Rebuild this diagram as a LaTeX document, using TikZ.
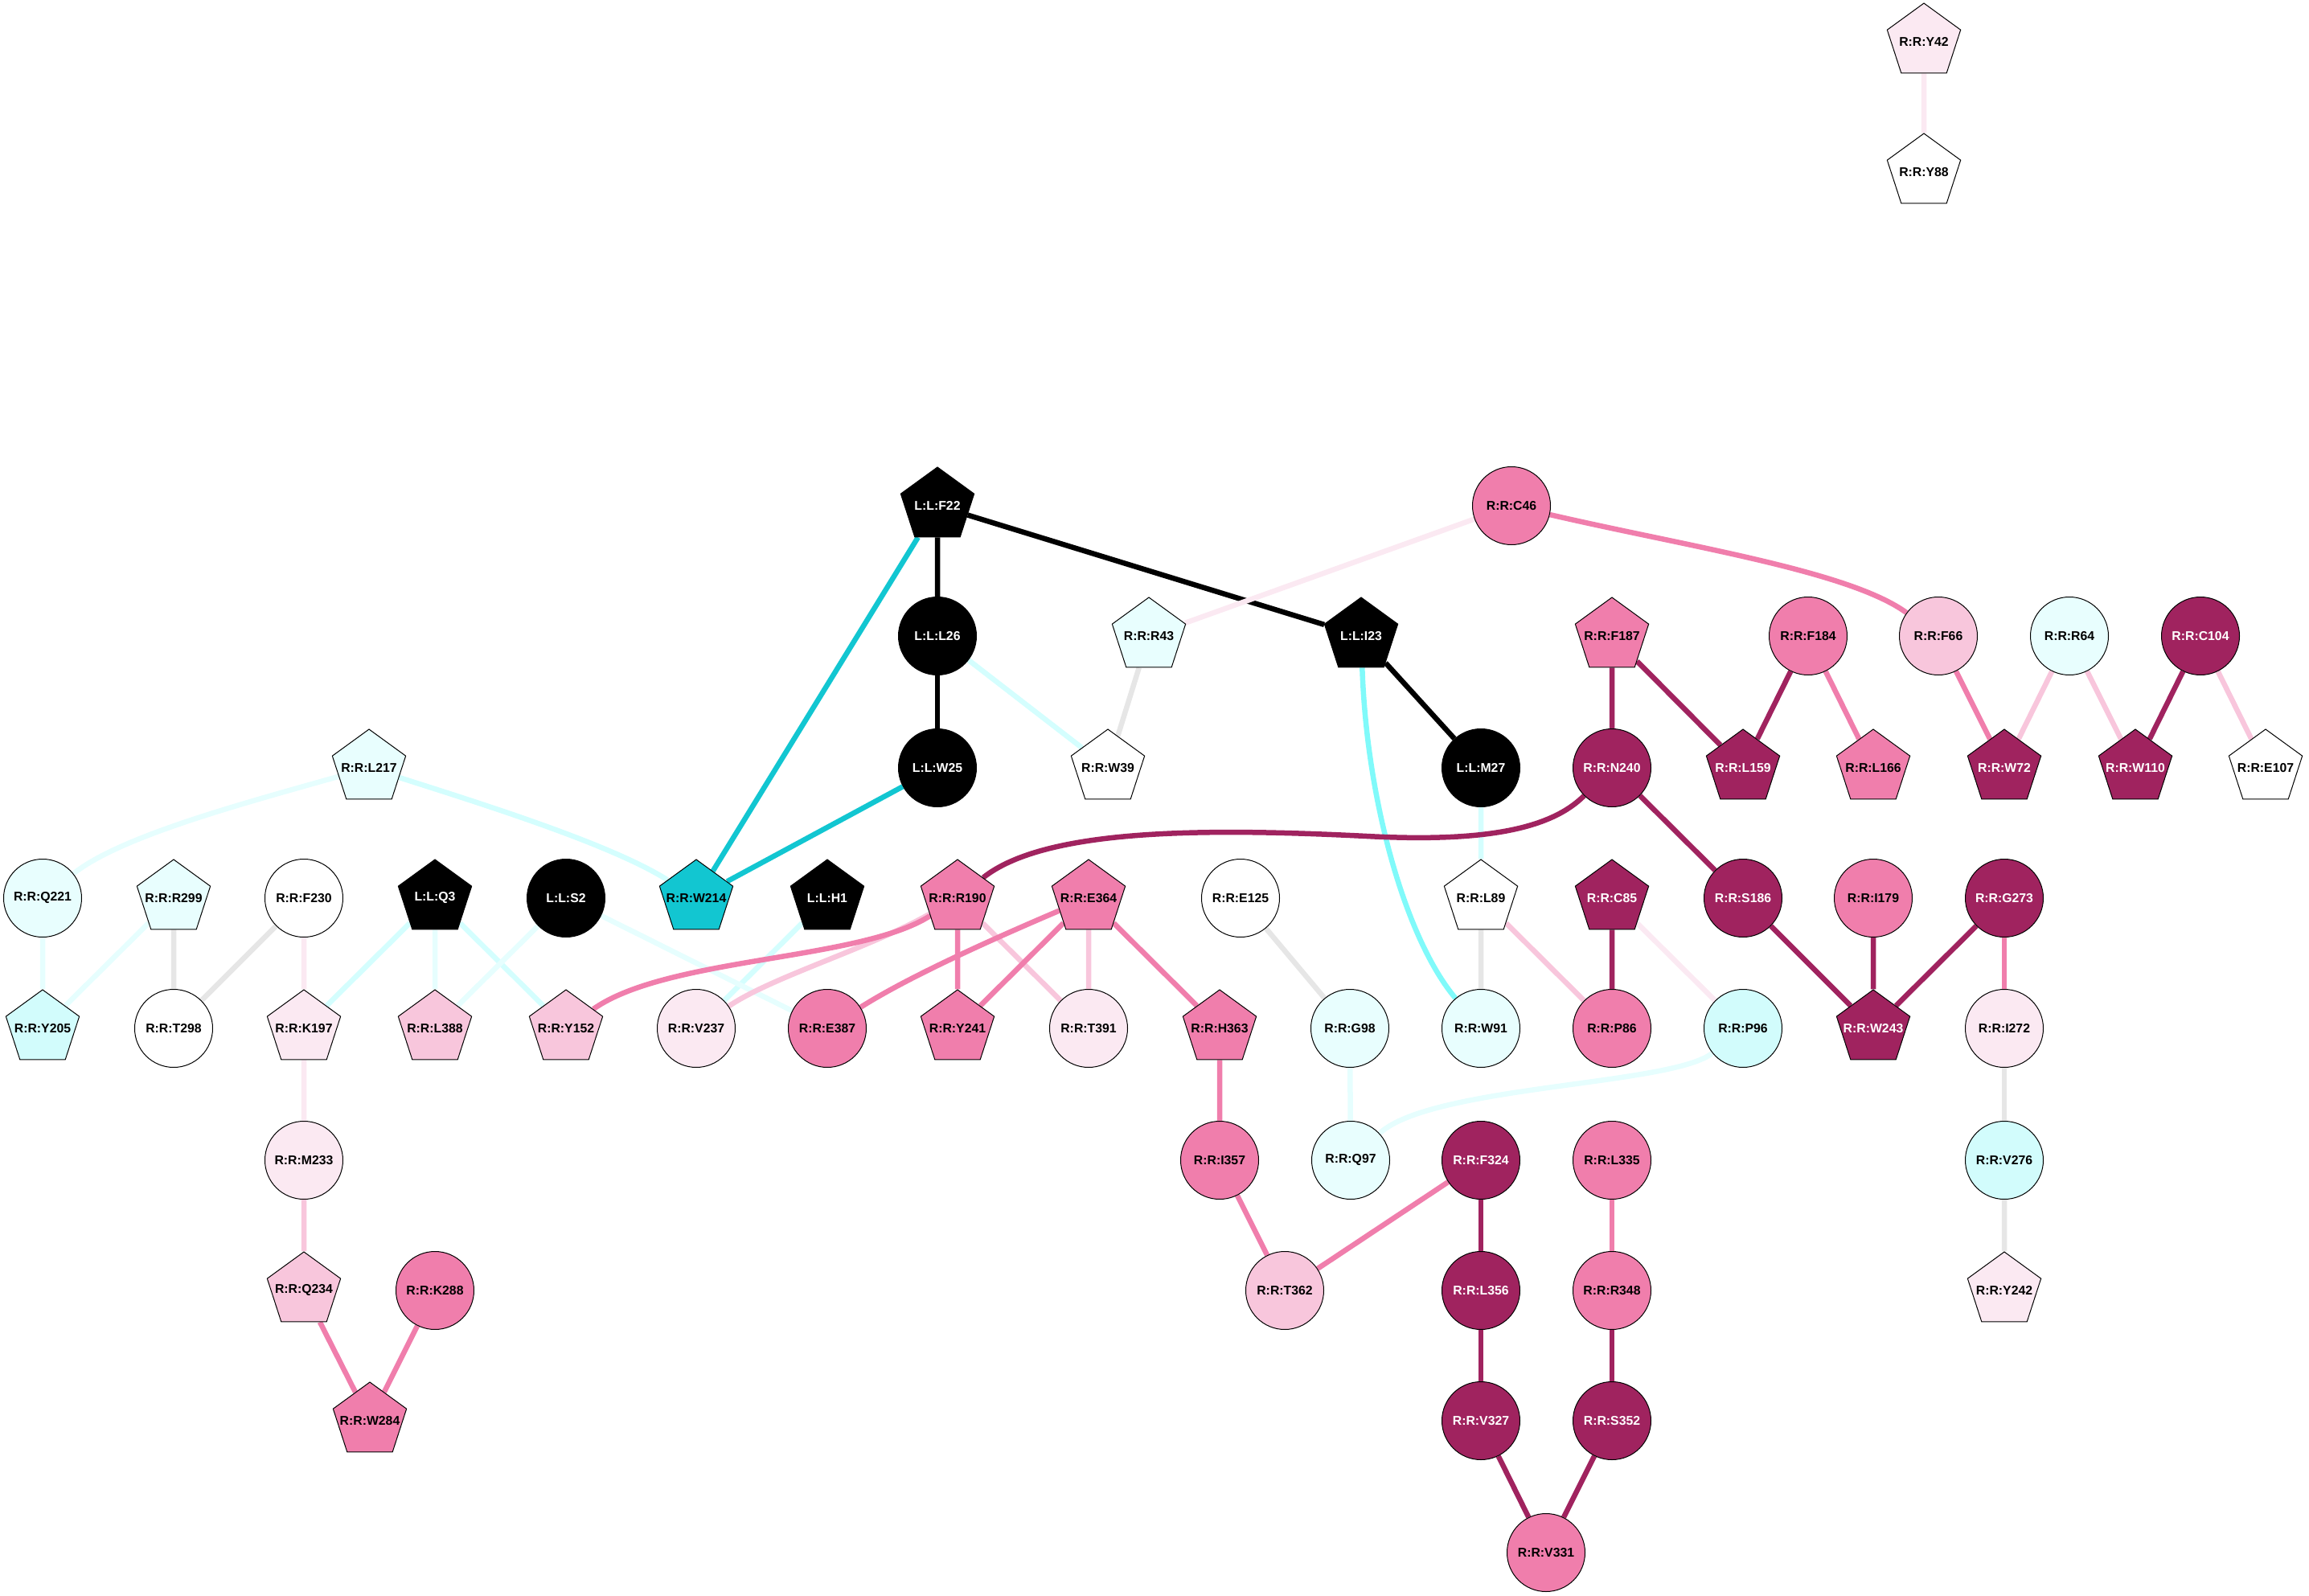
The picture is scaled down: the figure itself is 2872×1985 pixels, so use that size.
\documentclass[tikz,border=0pt]{standalone}
\usepackage{fontspec}
\setmainfont{Liberation Sans}
\usepackage{xcolor}
\usepackage{tikz}
\usetikzlibrary{shapes.geometric, backgrounds}
\definecolor{dkmag}{HTML}{A0235F}
\definecolor{mdpink}{HTML}{F07EAC}
\definecolor{ltpink}{HTML}{F8C6DC}
\definecolor{vlpink}{HTML}{FBE9F2}
\definecolor{ltcyan}{HTML}{D2FCFC}
\definecolor{vlcyan}{HTML}{E8FEFE}
\definecolor{trq}{HTML}{12C6D1}
\definecolor{aqua}{HTML}{80FAFA}
\definecolor{cyedge}{HTML}{D4FEFE}
\definecolor{vcyedge}{HTML}{E6FEFE}
\definecolor{gredge}{HTML}{E6E6E6}

\tikzset{
    res/.style={draw=black, line width=0.5pt, inner sep=0pt, fill=white,
        font=\fontsize{7.9}{9}\selectfont\bfseries},
    circ/.style={res, circle, minimum size=48.5pt},
    pent/.style={res, regular polygon, regular polygon sides=5, minimum size=48pt,
        inner xsep=-14pt},
    lig/.style={fill=black, text=white},
    dark/.style={fill=dkmag, text=white},
    mid/.style={fill=mdpink},
    lpk/.style={fill=ltpink},
    vpk/.style={fill=vlpink},
    lcy/.style={fill=ltcyan},
    vcy/.style={fill=vlcyan},
    tcy/.style={fill=trq},
    bond/.style={line width=3.25pt},
    eblk/.style={bond, draw=black},
    etrq/.style={bond, draw=trq},
    eaqua/.style={bond, draw=aqua},
    ecy/.style={bond, draw=cyedge},
    evcy/.style={bond, draw=vcyedge},
    egr/.style={bond, draw=gredge},
    evlp/.style={bond, draw=vlpink},
    elp/.style={bond, draw=ltpink},
    emp/.style={bond, draw=mdpink},
    edk/.style={bond, draw=dkmag},
}

\begin{document}
\begin{tikzpicture}[x=0.5pt, y=-0.5pt]
    \useasboundingbox (0,0) rectangle (2872,1985);

    % Ligand residues
    \node[pent, lig] (LF22) at (1166,629) {L:L:F22};
    \node[circ, lig] (LL26) at (1166,791) {L:L:L26};
    \node[pent, lig] (LI23) at (1693,791) {L:L:I23};
    \node[circ, lig] (LW25) at (1166,955) {L:L:W25};
    \node[circ, lig] (LM27) at (1842,955) {L:L:M27};
    \node[pent, lig] (LQ3) at (541,1117) {L:L:Q3};
    \node[circ, lig] (LS2) at (704,1117) {L:L:S2};
    \node[pent, lig] (LH1) at (1029,1117) {L:L:H1};

    % Top pair
    \node[pent, vpk] (Y42) at (2393,52) {R:R:Y42};
    \node[pent] (Y88) at (2393,214) {R:R:Y88};

    % Row 629 / 791
    \node[circ, mid] (C46) at (1880,629) {R:R:C46};
    \node[pent, vcy] (R43) at (1429,791) {R:R:R43};
    \node[pent, mid] (F187) at (2005,791) {R:R:F187};
    \node[circ, mid] (F184) at (2249,791) {R:R:F184};
    \node[circ, lpk] (F66) at (2411,791) {R:R:F66};
    \node[circ, vcy] (R64) at (2574,791) {R:R:R64};
    \node[circ, dark] (C104) at (2737,791) {R:R:C104};

    % Row 955
    \node[pent, vcy] (L217) at (459,955) {R:R:L217};
    \node[pent] (W39) at (1378,955) {R:R:W39};
    \node[circ, dark] (N240) at (2005,955) {R:R:N240};
    \node[pent, dark] (L159) at (2168,955) {R:R:L159};
    \node[pent, mid] (L166) at (2330,955) {R:R:L166};
    \node[pent, dark] (W72) at (2493,955) {R:R:W72};
    \node[pent, dark] (W110) at (2656,955) {R:R:W110};
    \node[pent] (E107) at (2818,955) {R:R:E107};

    % Row 1117
    \node[circ, vcy] (Q221) at (53,1117) {R:R:Q221};
    \node[pent, vcy] (R299) at (216,1117) {R:R:R299};
    \node[circ] (F230) at (378,1117) {R:R:F230};
    \node[pent, tcy] (W214) at (866,1117) {R:R:W214};
    \node[pent, mid] (R190) at (1191,1117) {R:R:R190};
    \node[pent, mid] (E364) at (1354,1117) {R:R:E364};
    \node[circ] (E125) at (1543,1117) {R:R:E125};
    \node[pent] (L89) at (1842,1117) {R:R:L89};
    \node[pent, dark] (C85) at (2005,1117) {R:R:C85};
    \node[circ, dark] (S186) at (2168,1117) {R:R:S186};
    \node[circ, mid] (I179) at (2330,1117) {R:R:I179};
    \node[circ, dark] (G273) at (2493,1117) {R:R:G273};

    % Row 1279
    \node[pent, lcy] (Y205) at (53,1279) {R:R:Y205};
    \node[circ] (T298) at (216,1279) {R:R:T298};
    \node[pent, vpk] (K197) at (378,1279) {R:R:K197};
    \node[pent, lpk] (L388) at (541,1279) {R:R:L388};
    \node[pent, lpk] (Y152) at (704,1279) {R:R:Y152};
    \node[circ, vpk] (V237) at (866,1279) {R:R:V237};
    \node[circ, mid] (E387) at (1029,1279) {R:R:E387};
    \node[pent, mid] (Y241) at (1191,1279) {R:R:Y241};
    \node[circ, vpk] (T391) at (1354,1279) {R:R:T391};
    \node[pent, mid] (H363) at (1517,1279) {R:R:H363};
    \node[circ, vcy] (G98) at (1679,1279) {R:R:G98};
    \node[circ, vcy] (W91) at (1842,1279) {R:R:W91};
    \node[circ, mid] (P86) at (2005,1279) {R:R:P86};
    \node[circ, lcy] (P96) at (2168,1279) {R:R:P96};
    \node[pent, dark] (W243) at (2330,1279) {R:R:W243};
    \node[circ, vpk] (I272) at (2493,1279) {R:R:I272};

    % Lower rows
    \node[circ, vpk] (M233) at (378,1443) {R:R:M233};
    \node[circ, mid] (I357) at (1517,1443) {R:R:I357};
    \node[circ, vcy] (Q97) at (1680,1443) {R:R:Q97};
    \node[circ, dark] (F324) at (1842,1443) {R:R:F324};
    \node[circ, mid] (L335) at (2005,1443) {R:R:L335};
    \node[circ, lcy] (V276) at (2493,1443) {R:R:V276};
    \node[pent, lpk] (Q234) at (378,1605) {R:R:Q234};
    \node[circ, mid] (K288) at (541,1605) {R:R:K288};
    \node[circ, lpk] (T362) at (1598,1605) {R:R:T362};
    \node[circ, dark] (L356) at (1842,1605) {R:R:L356};
    \node[circ, mid] (R348) at (2005,1605) {R:R:R348};
    \node[pent, vpk] (Y242) at (2493,1605) {R:R:Y242};
    \node[pent, mid] (W284) at (460,1767) {R:R:W284};
    \node[circ, dark] (V327) at (1842,1767) {R:R:V327};
    \node[circ, dark] (S352) at (2005,1767) {R:R:S352};
    \node[circ, mid] (V331) at (1923,1931) {R:R:V331};

    \begin{pgfonlayer}{background}
    % Ligand contacts
    \draw[eblk] (LF22) -- (LL26);
    \draw[eblk] (LL26) -- (LW25);
    \draw[eblk] (LF22) -- (LI23);
    \draw[eblk] (LI23) -- (LM27);
    \draw[etrq] (LF22) -- (W214);
    \draw[etrq] (LW25) -- (W214);
    \draw[eaqua] (LI23) .. controls (1700,1000) and (1750,1170) .. (W91);

    % Light cyan
    \draw[ecy] (LL26) -- (W39);
    \draw[ecy] (L217) .. controls (600,1000) and (760,1050) .. (W214);
    \draw[ecy] (LQ3) -- (K197);
    \draw[ecy] (LQ3) -- (Y152);
    \draw[ecy] (LH1) -- (V237);
    \draw[ecy] (LM27) -- (L89);
    \draw[evcy] (L217) .. controls (300,1000) and (150,1040) .. (Q221);
    \draw[evcy] (Q221) -- (Y205);
    \draw[evcy] (R299) -- (Y205);
    \draw[evcy] (LQ3) -- (L388);
    \draw[evcy] (LS2) -- (L388);
    \draw[evcy] (LS2) -- (E387);
    \draw[evcy] (G98) -- (Q97);
    \draw[evcy] (P96) .. controls (2080,1350) and (1780,1350) .. (Q97);

    % Grey
    \draw[egr] (R299) -- (T298);
    \draw[egr] (F230) -- (T298);
    \draw[egr] (R43) -- (W39);
    \draw[egr] (E125) -- (G98);
    \draw[egr] (L89) -- (W91);
    \draw[egr] (I272) -- (V276);
    \draw[egr] (V276) -- (Y242);

    % Pale pink
    \draw[evlp] (F230) -- (K197);
    \draw[evlp] (K197) -- (M233);
    \draw[evlp] (C46) -- (R43);
    \draw[evlp] (C85) -- (P96);
    \draw[evlp] (Y42) -- (Y88);
    \draw[elp] (M233) -- (Q234);
    \draw[elp] (R190) -- (T391);
    \draw[elp] (E364) -- (T391);
    \draw[elp] (R190) .. controls (1080,1180) and (960,1215) .. (V237);
    \draw[elp] (L89) -- (P86);
    \draw[elp] (R64) -- (W72);
    \draw[elp] (R64) -- (W110);
    \draw[elp] (C104) -- (E107);

    % Pink
    \draw[emp] (R190) .. controls (1070,1195) and (830,1190) .. (Y152);
    \draw[emp] (E364) .. controls (1230,1170) and (1130,1215) .. (E387);
    \draw[emp] (R190) -- (Y241);
    \draw[emp] (E364) -- (Y241);
    \draw[emp] (E364) -- (H363);
    \draw[emp] (H363) -- (I357);
    \draw[emp] (I357) -- (T362);
    \draw[emp] (F324) -- (T362);
    \draw[emp] (L335) -- (R348);
    \draw[emp] (Q234) -- (W284);
    \draw[emp] (K288) -- (W284);
    \draw[emp] (C46) .. controls (2100,680) and (2300,710) .. (F66);
    \draw[emp] (F184) -- (L166);
    \draw[emp] (F66) -- (W72);
    \draw[emp] (G273) -- (I272);

    % Dark magenta
    \draw[edk] (R190) .. controls (1300,1030) and (1500,1030) .. (1700,1040)
        .. controls (1850,1048) and (1930,1030) .. (N240);
    \draw[edk] (F187) -- (N240);
    \draw[edk] (F187) -- (L159);
    \draw[edk] (F184) -- (L159);
    \draw[edk] (N240) -- (S186);
    \draw[edk] (S186) -- (W243);
    \draw[edk] (I179) -- (W243);
    \draw[edk] (G273) -- (W243);
    \draw[edk] (C85) -- (P86);
    \draw[edk] (C104) -- (W110);
    \draw[edk] (F324) -- (L356);
    \draw[edk] (L356) -- (V327);
    \draw[edk] (R348) -- (S352);
    \draw[edk] (V327) -- (V331);
    \draw[edk] (S352) -- (V331);
    \end{pgfonlayer}

\end{tikzpicture}
\end{document}
